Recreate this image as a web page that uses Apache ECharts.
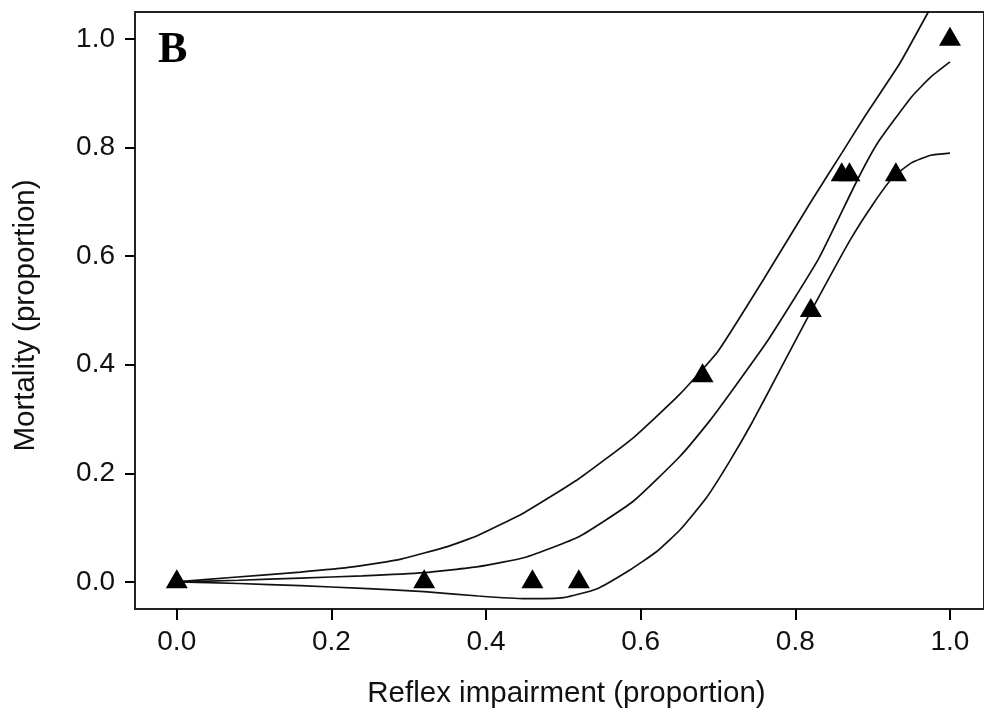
<!DOCTYPE html>
<html>
<head>
<meta charset="utf-8">
<script src="https://cdn.jsdelivr.net/npm/echarts@6/dist/echarts.min.js"></script>
<style>
  html, body { margin: 0; padding: 0; background: #fff; }
  #main { width: 984px; height: 714px; }
</style>
</head>
<body>
<div id="main"></div>
<script>
// observed proportions (triangles)
var obsX = [0.0, 0.32, 0.46, 0.52, 0.68, 0.82, 0.86, 0.87, 0.93, 1.0];
var obsY = [0.0, 0.0, 0.0, 0.0, 0.38, 0.50, 0.75, 0.75, 0.75, 1.0];

// fitted curve
var fitX = [0, 0.08, 0.16, 0.24, 0.32, 0.39, 0.45, 0.52, 0.59, 0.65, 0.69, 0.715, 0.765, 0.83, 0.88, 0.907, 0.95, 0.975, 1.0];
var fitY = [0, 0.003, 0.007, 0.011, 0.017, 0.028, 0.045, 0.083, 0.148, 0.23, 0.298, 0.346, 0.446, 0.595, 0.74, 0.81, 0.893, 0.93, 0.958];

// upper confidence band
var upX = [0, 0.07, 0.16, 0.23, 0.29, 0.35, 0.39, 0.45, 0.52, 0.59, 0.65, 0.70, 0.76, 0.82, 0.86, 0.89, 0.935, 0.972, 1.0];
var upY = [0, 0.008, 0.018, 0.028, 0.042, 0.065, 0.086, 0.128, 0.19, 0.265, 0.345, 0.425, 0.56, 0.70, 0.79, 0.858, 0.955, 1.05, 1.12];

// lower confidence band
var loX = [0, 0.08, 0.16, 0.24, 0.32, 0.39, 0.45, 0.50, 0.543, 0.586, 0.62, 0.651, 0.685, 0.715, 0.745, 0.78, 0.819, 0.871, 0.90, 0.926, 0.95, 0.975, 1.0];
var loY = [0, -0.003, -0.007, -0.012, -0.018, -0.026, -0.031, -0.029, -0.013, 0.022, 0.055, 0.096, 0.155, 0.222, 0.296, 0.39, 0.495, 0.63, 0.695, 0.745, 0.772, 0.786, 0.79];

var tickVals = [0, 0.2, 0.4, 0.6, 0.8, 1.0];

function pairs(xs, ys) {
  return xs.map(function (x, i) { return [x, ys[i]]; });
}

var myChart = echarts.init(document.getElementById('main'));

var axisFont = { fontFamily: 'Liberation Sans', fontSize: 28, color: '#111' };

function curve(name, xs, ys) {
  return {
    name: name,
    type: 'line',
    data: pairs(xs, ys),
    showSymbol: false,
    smooth: 0.15,
    clip: true,
    lineStyle: { color: '#111', width: 1.7 },
    z: 2
  };
}

var option = {
  animation: false,
  backgroundColor: '#fff',
  grid: {
    left: 135, top: 12, width: 849, height: 597,
    outerBoundsMode: 'none',
    containLabel: false,
    show: true, borderColor: '#222', borderWidth: 2, backgroundColor: 'transparent'
  },
  xAxis: {
    type: 'value',
    min: -0.054, max: 1.044,
    name: 'Reflex impairment (proportion)',
    nameLocation: 'middle',
    nameGap: 70,
    nameTextStyle: { fontFamily: 'Liberation Sans', fontSize: 29.5, color: '#111', padding: [0, 0, 0, 14] },
    axisLine: { show: true, onZero: false, lineStyle: { color: '#222', width: 2 } },
    splitLine: { show: false },
    axisTick: { show: true, inside: false, length: 11, customValues: tickVals, lineStyle: { color: '#000', width: 2 } },
    axisLabel: Object.assign({ margin: 19, customValues: tickVals, formatter: function (v) { return v.toFixed(1); } }, axisFont)
  },
  yAxis: {
    type: 'value',
    min: -0.05, max: 1.05,
    name: 'Mortality (proportion)',
    nameLocation: 'middle',
    nameGap: 94,
    nameTextStyle: { fontFamily: 'Liberation Sans', fontSize: 29.5, color: '#111', padding: [0, 10, 0, 0] },
    axisLine: { show: true, onZero: false, lineStyle: { color: '#222', width: 2 } },
    splitLine: { show: false },
    axisTick: { show: true, inside: false, length: 10, customValues: tickVals, lineStyle: { color: '#000', width: 2 } },
    axisLabel: Object.assign({ margin: 20, customValues: tickVals, formatter: function (v) { return v.toFixed(1); } }, axisFont)
  },
  graphic: [{
    type: 'text',
    left: 158, top: 29,
    style: { text: 'B', font: 'bold 44px "Liberation Serif"', fill: '#000' }
  }],
  series: [
    curve('upper', upX, upY),
    curve('fit', fitX, fitY),
    curve('lower', loX, loY),
    {
      name: 'observed',
      type: 'scatter',
      data: pairs(obsX, obsY),
      symbol: 'triangle',
      symbolSize: [22, 19],
      symbolOffset: [0, -3],
      itemStyle: { color: '#000', opacity: 1 },
      z: 3
    }
  ]
};

myChart.setOption(option);
</script>
</body>
</html>
